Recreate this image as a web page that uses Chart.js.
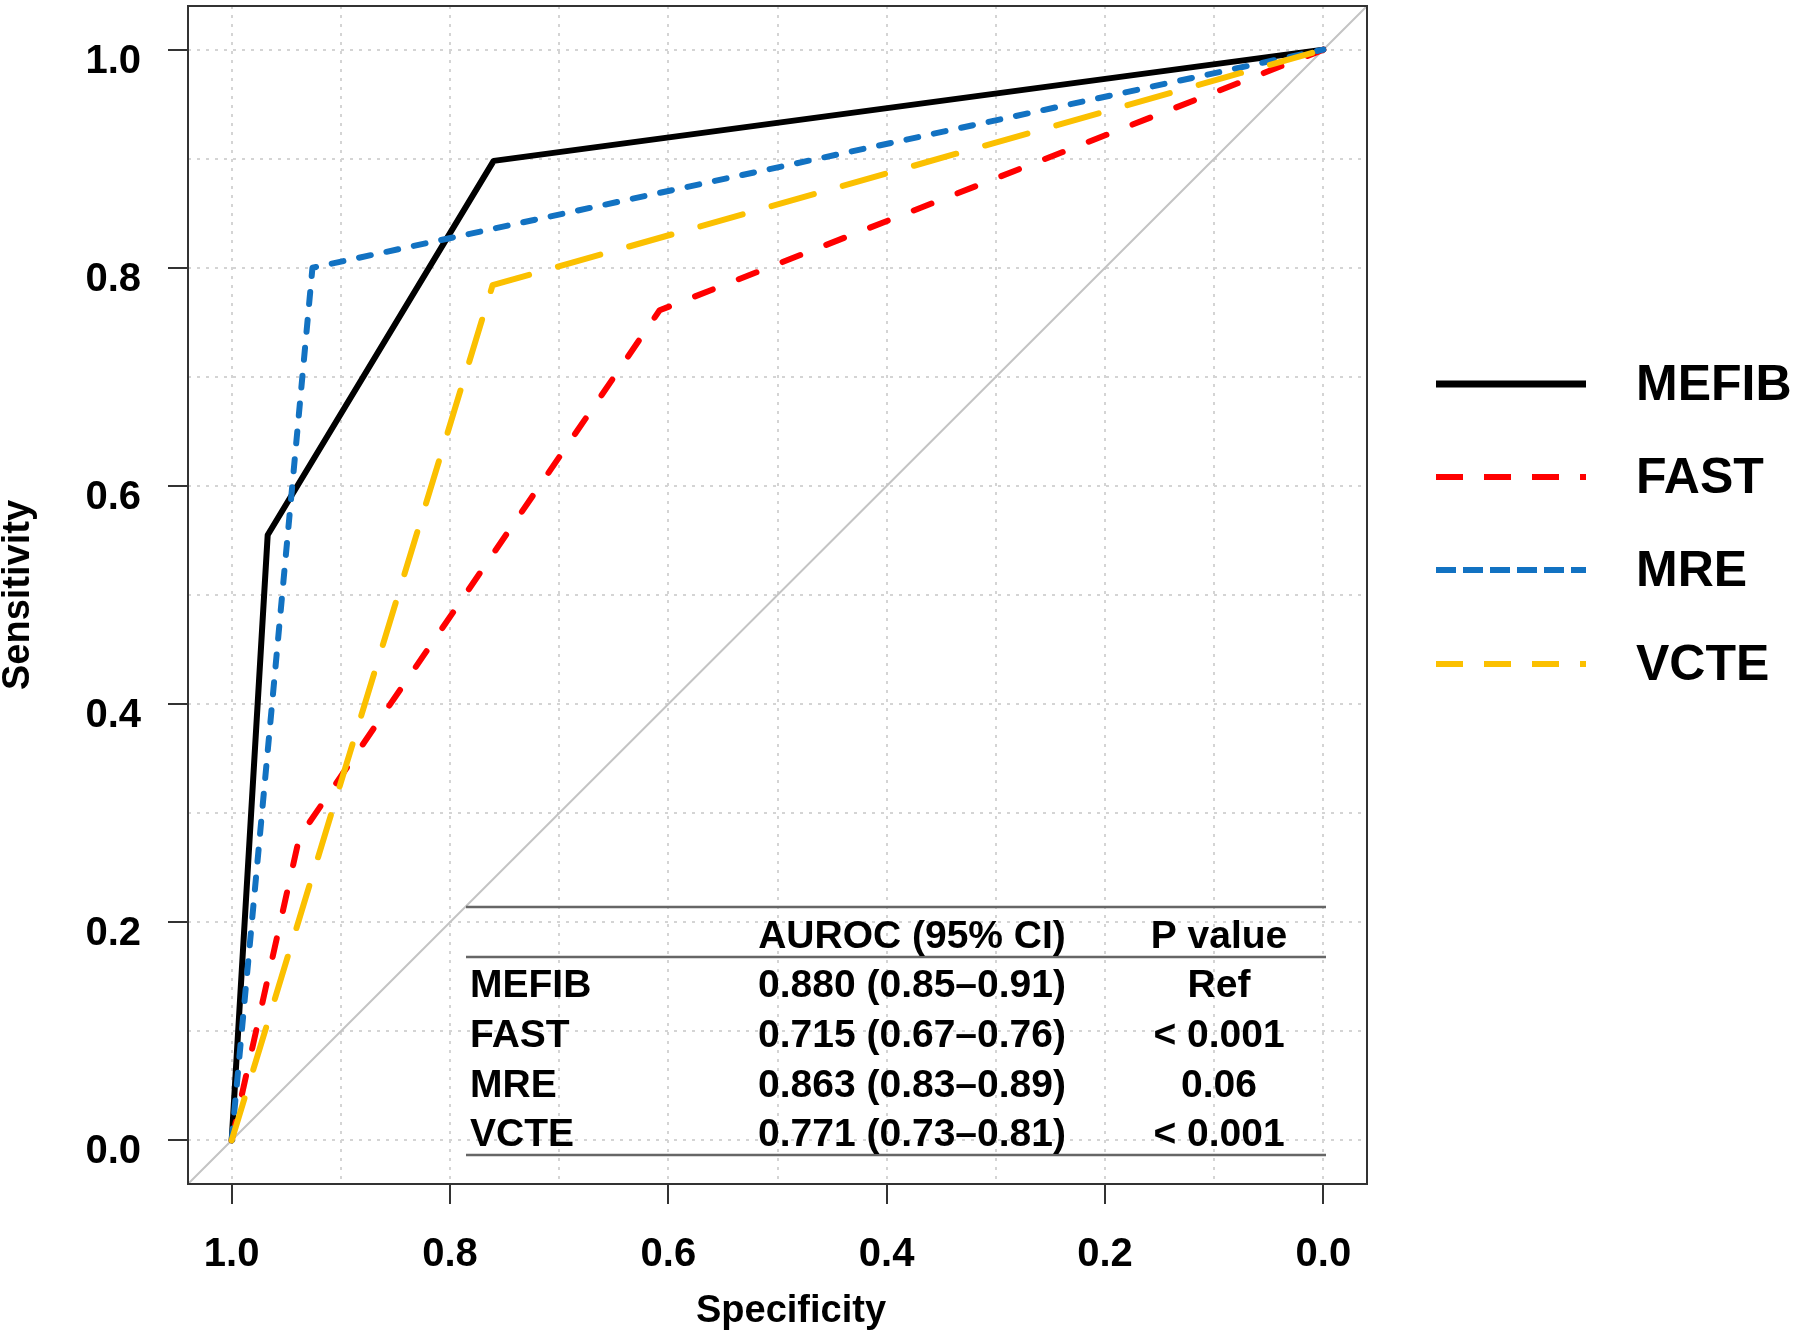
<!DOCTYPE html>
<html>
<head>
<meta charset="utf-8">
<script src="https://cdn.jsdelivr.net/npm/chart.js@4"></script>
<style>
  html, body { margin: 0; padding: 0; background: #fff; }
</style>
</head>
<body>
<canvas id="rocChart" width="1800" height="1344"></canvas>
<script>
// tick positions (grid every 0.1, labels every 0.2)
const tickVals = [0, 0.1, 0.2, 0.3, 0.4, 0.5, 0.6, 0.7, 0.8, 0.9, 1.0];

// ROC points: specificity (x, reversed) / sensitivity (y)
const mefibSpec = [1, 0.967, 0.760, 0];
const mefibSens = [0, 0.555, 0.898, 1];
const fastSpec = [1, 0.938, 0.608, 0];
const fastSens = [0, 0.278, 0.761, 1];
const mreSpec = [1, 0.926, 0];
const mreSens = [0, 0.800, 1];
const vcteSpec = [1, 0.761, 0];
const vcteSens = [0, 0.784, 1];

// chance line, corner to corner
const diagSpec = [1.04, -0.04];
const diagSens = [-0.04, 1.04];

// table in the plot
const tableHead = ['', 'AUROC (95% CI)', 'P value'];
const tableModels = ['MEFIB', 'FAST', 'MRE', 'VCTE'];
const tableAuroc = ['0.880 (0.85\u20130.91)', '0.715 (0.67\u20130.76)', '0.863 (0.83\u20130.89)', '0.771 (0.73\u20130.81)'];
const tablePval = ['Ref', '< 0.001', '0.06', '< 0.001'];

const FONT = '"Liberation Sans", Arial, Helvetica, sans-serif';
const legendDash = [[], [27, 21], [20, 7], [27, 21]];

function toPoints(xs, ys) {
    return xs.map((x, i) => ({ x: x, y: ys[i] }));
}

const isMajor = v => Math.round(v * 10) % 2 === 0;

const boxPlugin = {
    id: 'box',
    afterDraw(chart) {
        const { ctx, chartArea: a } = chart;
        ctx.save();
        ctx.strokeStyle = '#333';
        ctx.lineWidth = 2;
        ctx.strokeRect(a.left, a.top, a.right - a.left, a.bottom - a.top);
        // x axis title (sits a little right of the plot centre in the original)
        ctx.fillStyle = '#000';
        ctx.font = 'bold 38px ' + FONT;
        ctx.textAlign = 'center';
        ctx.textBaseline = 'middle';
        ctx.fillText('Specificity', 791, 1312);
        ctx.restore();
    }
};

const tablePlugin = {
    id: 'aurocTable',
    afterDraw(chart) {
        const ctx = chart.ctx;
        const left = 466, right = 1326;
        const colLabel = 470, colAuroc = 912, colP = 1219;
        const headY = 937;
        const rowY = [986, 1036, 1086, 1135];
        ctx.save();
        ctx.strokeStyle = '#666';
        ctx.lineWidth = 2.5;
        [907, 957, 1155].forEach(y => {
            ctx.beginPath();
            ctx.moveTo(left, y);
            ctx.lineTo(right, y);
            ctx.stroke();
        });
        ctx.fillStyle = '#000';
        ctx.font = 'bold 39px ' + FONT;
        ctx.textBaseline = 'middle';
        ctx.textAlign = 'center';
        ctx.fillText(tableHead[1], colAuroc, headY);
        ctx.fillText(tableHead[2], colP, headY);
        tableModels.forEach((m, i) => {
            ctx.textAlign = 'left';
            ctx.fillText(m, colLabel, rowY[i]);
            ctx.textAlign = 'center';
            ctx.fillText(tableAuroc[i], colAuroc, rowY[i]);
            ctx.fillText(tablePval[i], colP, rowY[i]);
        });
        ctx.restore();
    }
};

const legendPlugin = {
    id: 'sideLegend',
    afterDraw(chart) {
        const ctx = chart.ctx;
        const ys = [384, 477, 570, 664];
        ctx.save();
        chart.data.datasets.slice(0, 4).forEach((ds, i) => {
            ctx.strokeStyle = ds.borderColor;
            ctx.lineWidth = i === 0 ? 7 : 6;
            ctx.lineCap = 'butt';
            ctx.setLineDash(legendDash[i]);
            ctx.beginPath();
            ctx.moveTo(1436, ys[i]);
            ctx.lineTo(1586, ys[i]);
            ctx.stroke();
            ctx.setLineDash([]);
            ctx.fillStyle = '#000';
            ctx.font = 'bold 50px ' + FONT;
            ctx.textAlign = 'left';
            ctx.textBaseline = 'middle';
            ctx.fillText(ds.label, 1636, ys[i] + 2);
        });
        ctx.restore();
    }
};

const tickFont = { family: FONT, size: 40, weight: 'bold' };
const titleFont = { family: FONT, size: 38, weight: 'bold' };

function gridOpts() {
    return {
        color: '#d4d4d4',
        lineWidth: 2,
        tickLength: 20,
        tickWidth: 2,
        tickBorderDash: [],
        tickColor: c => (c.tick && isMajor(c.tick.value)) ? '#333' : 'rgba(0,0,0,0)'
    };
}

function setTicks(scale) {
    scale.ticks = tickVals.map(v => ({ value: v }));
}

const ctxRoc = document.getElementById('rocChart').getContext('2d');

const config = {
    type: 'line',
    data: {
        datasets: [
            { label: 'MEFIB', data: toPoints(mefibSpec, mefibSens), borderColor: '#000000', borderWidth: 6, order: 4 },
            { label: 'FAST', data: toPoints(fastSpec, fastSens), borderColor: '#ff0000', borderWidth: 6, borderDash: [19, 28], order: 3 },
            { label: 'MRE', data: toPoints(mreSpec, mreSens), borderColor: '#1272c2', borderWidth: 6, borderDash: [12, 16], order: 2 },
            { label: 'VCTE', data: toPoints(vcteSpec, vcteSens), borderColor: '#fbc000', borderWidth: 6, borderDash: [44, 30], order: 1 },
            { label: 'chance', data: toPoints(diagSpec, diagSens), borderColor: '#c4c4c4', borderWidth: 2, order: 5 }
        ]
    },
    options: {
        responsive: false,
        devicePixelRatio: 1,
        animation: false,
        layout: { padding: { left: 0, right: 433, top: 6, bottom: 0 } },
        elements: {
            point: { radius: 0 },
            line: { tension: 0, fill: false, borderCapStyle: 'round', borderJoinStyle: 'round' }
        },
        plugins: { legend: { display: false }, tooltip: { enabled: false } },
        scales: {
            x: {
                type: 'linear',
                reverse: true,
                min: -0.04,
                max: 1.04,
                afterBuildTicks: setTicks,
                afterFit: s => { s.height = 160; s.paddingLeft = 0; s.paddingRight = 0; },
                ticks: {
                    autoSkip: false, maxRotation: 0, padding: 27, font: tickFont, color: '#000',
                    callback: v => isMajor(v) ? v.toFixed(1) : ''
                },
                grid: gridOpts(),
                border: { display: false, dash: [3, 6] },
                title: { display: false }
            },
            y: {
                type: 'linear',
                min: -0.04,
                max: 1.04,
                afterBuildTicks: setTicks,
                afterFit: s => { s.width = 188; s.paddingTop = 0; s.paddingBottom = 0; },
                ticks: {
                    autoSkip: false, padding: 27, labelOffset: 12, font: tickFont, color: '#000',
                    callback: v => isMajor(v) ? v.toFixed(1) : ''
                },
                grid: gridOpts(),
                border: { display: false, dash: [3, 6] },
                title: { display: true, text: 'Sensitivity', font: titleFont, color: '#000', padding: { top: -4, bottom: 0 } }
            }
        }
    },
    plugins: [boxPlugin, tablePlugin, legendPlugin]
};

const rocChart = new Chart(ctxRoc, config);
</script>
</body>
</html>
